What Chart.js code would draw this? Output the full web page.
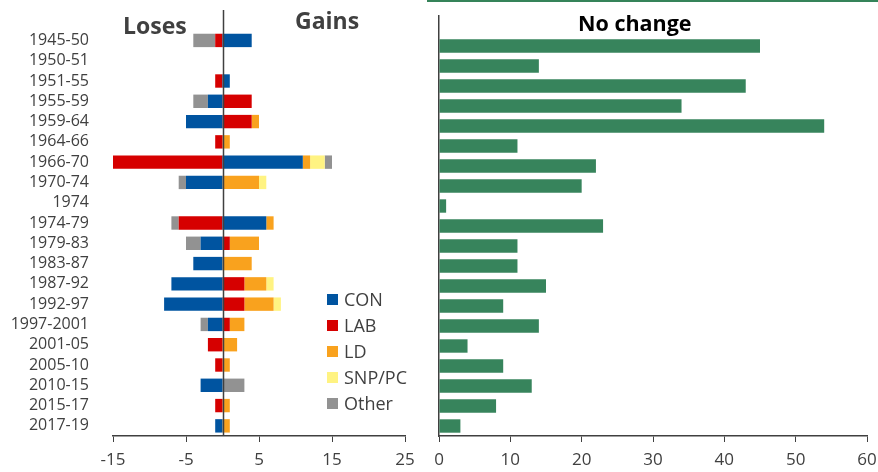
<!DOCTYPE html>
<html>
<head>
<meta charset="utf-8">
<script src="https://cdn.jsdelivr.net/npm/chart.js@4.4.1/dist/chart.umd.min.js"></script>
<style>
  html, body { margin: 0; padding: 0; background: #fff; }
  body { width: 878px; height: 472px; position: relative; overflow: hidden; font-family: "Open Sans", sans-serif; }
  #leftWrap { position: absolute; left: 0; top: 0; width: 430px; height: 472px; }
  #rightWrap { position: absolute; left: 430px; top: 0; width: 448px; height: 472px; }
  canvas { display: block; }
  .topRule { position: absolute; left: 427px; top: 0; width: 451px; height: 2px; background: #358359; }
  .hdr { position: absolute; font-weight: 700; white-space: nowrap; line-height: 1; }
  .legend { position: absolute; left: 327px; top: 286px; color: #404040; font-size: 18px; }
  .legend div { height: 26px; display: flex; align-items: center; }
  .legend span.sw { display: inline-block; width: 11px; height: 11px; margin-right: 6px; }
</style>
</head>
<body>
<div id="leftWrap"><canvas id="swing" width="430" height="472"></canvas></div>
<div id="rightWrap"><canvas id="nochange" width="448" height="472"></canvas></div>
<div class="topRule"></div>
<div class="hdr" style="left:123px; top:14px; font-size:23px; color:#404040;">Loses</div>
<div class="hdr" style="left:295px; top:9px; font-size:23px; color:#404040;">Gains</div>
<div class="hdr" style="left:578px; top:11.5px; font-size:21.5px; color:#000;">No change</div>
<div class="legend" id="legend"></div>

<script>
// Parliaments (first row left blank for the panel headings)
const periods = ["", "1945-50", "1950-51", "1951-55", "1955-59", "1959-64", "1964-66", "1966-70",
  "1970-74", "1974", "1974-79", "1979-83", "1983-87", "1987-92", "1992-97", "1997-2001",
  "2001-05", "2005-10", "2010-15", "2015-17", "2017-19"];

// Seats gained (+) or lost (-) by party
const con   = [null, 4, 0, 1, -2, -5, 0, 11, -5, 0, 6, -3, -4, -7, -8, -2, 0, 0, -3, 0, -1];
const lab   = [null, -1, 0, -1, 4, 4, -1, -15, 0, 0, -6, 1, 0, 3, 3, 1, -2, -1, 0, -1, 0];
const ld    = [null, 0, 0, 0, 0, 1, 1, 1, 5, 0, 1, 4, 4, 3, 4, 2, 2, 1, 0, 1, 1];
const snpPc = [null, 0, 0, 0, 0, 0, 0, 2, 1, 0, 0, 0, 0, 1, 1, 0, 0, 0, 0, 0, 0];
const other = [null, -3, 0, 0, -2, 0, 0, 1, -1, 0, -1, -2, 0, 0, 0, -1, 0, 0, 3, 0, 0];

// Seats with no change
const noChange = [null, 45, 14, 43, 34, 54, 11, 22, 20, 1, 23, 11, 11, 15, 9, 14, 4, 9, 13, 8, 3];

const swingTicks = [-15, -5, 5, 15, 25];
const noChangeTicks = [0, 10, 20, 30, 40, 50, 60];

const parties = [
  { name: "CON", data: con, color: "#0054A0" },
  { name: "LAB", data: lab, color: "#D60000" },
  { name: "LD", data: ld, color: "#F9A21E" },
  { name: "SNP/PC", data: snpPc, color: "#FFF382" },
  { name: "Other", data: other, color: "#929292" }
];

const axisColor = "#404040";
const tickFont = { family: "Open Sans", size: 17 };

// Keep the plot area edges where the layout padding puts them
function noLabelPadding(scale) {
  scale.paddingTop = 0;
  scale.paddingBottom = 0;
  scale.paddingLeft = 0;
  scale.paddingRight = 0;
}

// Vertical line at zero on the swing panel
const zeroLine = {
  id: "zeroLine",
  afterDatasetsDraw(chart) {
    const x = Math.round(chart.scales.x.getPixelForValue(0)) + 0.5;
    const { top, bottom } = chart.chartArea;
    const ctx = chart.ctx;
    ctx.save();
    ctx.strokeStyle = axisColor;
    ctx.lineWidth = 1.5;
    ctx.beginPath();
    ctx.moveTo(x, top);
    ctx.lineTo(x, bottom);
    ctx.stroke();
    ctx.restore();
  }
};

new Chart(document.getElementById("swing"), {
  type: "bar",
  data: {
    labels: periods,
    datasets: parties.map(p => ({
      label: p.name,
      data: p.data,
      backgroundColor: p.color,
      borderWidth: 0,
      categoryPercentage: 1,
      barPercentage: 0.66
    }))
  },
  options: {
    indexAxis: "y",
    responsive: false,
    animation: false,
    events: [],
    layout: { padding: { top: 10, right: 25, left: 0, bottom: 0 } },
    plugins: { legend: { display: false }, tooltip: { enabled: false } },
    scales: {
      x: {
        stacked: true,
        min: -15,
        max: 25,
        afterBuildTicks(scale) { scale.ticks = swingTicks.map(v => ({ value: v })); },
        grid: { display: true, drawOnChartArea: false, drawTicks: true, tickLength: 6, color: axisColor },
        border: { display: true, color: axisColor, width: 1.5 },
        ticks: { color: axisColor, font: tickFont, padding: 8, maxRotation: 0 },
        afterFit(scale) { scale.height = 36; noLabelPadding(scale); }
      },
      y: {
        stacked: true,
        grid: { display: false },
        border: { display: false },
        ticks: { color: axisColor, font: { family: "Open Sans", size: 16 }, padding: 16, autoSkip: false },
        afterFit(scale) { scale.width = 113; noLabelPadding(scale); }
      }
    }
  },
  plugins: [zeroLine]
});

new Chart(document.getElementById("nochange"), {
  type: "bar",
  data: {
    labels: periods,
    datasets: [{
      label: "No change",
      data: noChange,
      backgroundColor: "#37845C",
      borderWidth: 0,
      categoryPercentage: 1,
      barPercentage: 0.67
    }]
  },
  options: {
    indexAxis: "y",
    responsive: false,
    animation: false,
    events: [],
    layout: { padding: { top: 16, right: 11, left: 0, bottom: 0 } },
    plugins: { legend: { display: false }, tooltip: { enabled: false } },
    scales: {
      x: {
        min: 0,
        max: 60,
        afterBuildTicks(scale) { scale.ticks = noChangeTicks.map(v => ({ value: v })); },
        grid: { display: true, drawOnChartArea: false, drawTicks: true, tickLength: 6, color: axisColor },
        border: { display: true, color: axisColor, width: 1.5 },
        ticks: { color: axisColor, font: tickFont, padding: 8, maxRotation: 0 },
        afterFit(scale) { scale.height = 36; noLabelPadding(scale); }
      },
      y: {
        grid: { display: false },
        border: { display: true, color: axisColor, width: 1.5 },
        ticks: { display: false },
        afterFit(scale) { scale.width = 9; noLabelPadding(scale); }
      }
    }
  }
});

// Party key
const legend = document.getElementById("legend");
parties.forEach(p => {
  const row = document.createElement("div");
  const sw = document.createElement("span");
  sw.className = "sw";
  sw.style.background = p.color;
  row.appendChild(sw);
  row.appendChild(document.createTextNode(p.name));
  legend.appendChild(row);
});
</script>
</body>
</html>
